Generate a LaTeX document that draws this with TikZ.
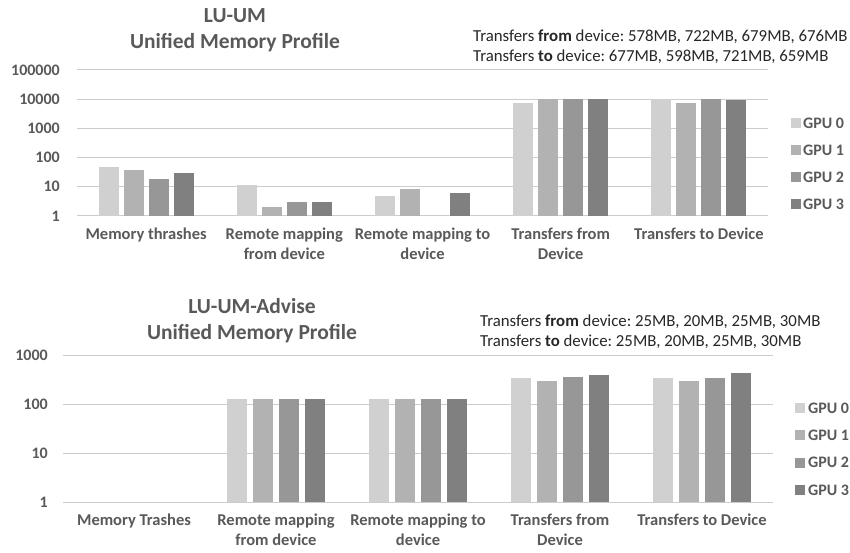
\documentclass[tikz,border=0pt]{standalone}
\usepackage{fontspec}
\setmainfont{Carlito}
\usetikzlibrary{positioning}
\frenchspacing
\definecolor{gpuA}{HTML}{D0D0D0}
\definecolor{gpuB}{HTML}{B2B2B2}
\definecolor{gpuC}{HTML}{979797}
\definecolor{gpuD}{HTML}{808080}
\definecolor{axistext}{HTML}{595959}
\definecolor{gridgray}{HTML}{CCCCCC}
\definecolor{notetext}{HTML}{262626}

\begin{document}
\begin{tikzpicture}[x=1pt,y=-1pt,
	gridline/.style={draw=gridgray,line width=1pt},
	ticklabel/.style={anchor=east,inner sep=0pt,text=axistext,font=\fontsize{16}{18}\bfseries},
	catlabel/.style={anchor=north,inner sep=0pt,align=center,text=axistext,font=\fontsize{16.5}{20}\bfseries},
	charttitle/.style={inner sep=0pt,align=center,text=axistext,font=\fontsize{21.5}{26}\bfseries},
	legendlabel/.style={anchor=west,inner sep=0pt,text=axistext,font=\fontsize{16}{18}\bfseries},
	note/.style={anchor=west,inner sep=0pt,align=left,text=notetext,font=\fontsize{16.8}{20}\selectfont}]
	\useasboundingbox (0,0) rectangle (850,553);

	\node[charttitle](titletop) at (235,30) {LU-UM\\Unified Memory Profile};
	\node[note](notetop) at (473,47) {Transfers \textbf{from} device: 578MB, 722MB, 679MB, 676MB\\Transfers \textbf{to} device: 677MB, 598MB, 721MB, 659MB};

	\foreach \k/\lab in {0/1,1/10,2/100,3/1000,4/10000,5/100000}{
		\draw[gridline] (77,216-29.2*\k) -- (768,216-29.2*\k);
		\node[ticklabel](ytop\k) at (60,216-29.2*\k) {\lab};
	}
	\foreach \c/\g/\v in {0/0/49,0/1/37,0/2/18.5,0/3/30,
		1/0/11.5,1/1/2,1/2/3,1/3/3,
		2/0/5,2/1/8.6,2/3/6,
		3/0/7200,3/1/10000,3/2/10000,3/3/10000,
		4/0/10000,4/1/7200,4/2/10000,4/3/9500}{
		\pgfmathsetmacro{\xm}{77+138.2*(\c+0.5)+25*(\g-1.5)}
		\pgfmathsetmacro{\h}{29.2*ln(\v)/ln(10)}
		\ifcase\g\def\fc{gpuA}\or\def\fc{gpuB}\or\def\fc{gpuC}\or\def\fc{gpuD}\fi
		\fill[\fc] (\xm-10,216) rectangle (\xm+10,216-\h);
	}
	\node[catlabel](cattop0) at (146.1,228) {Memory thrashes};
	\node[catlabel](cattop1) at (284.3,228) {Remote mapping\\from device};
	\node[catlabel](cattop2) at (422.5,228) {Remote mapping to\\device};
	\node[catlabel](cattop3) at (560.7,228) {Transfers from\\Device};
	\node[catlabel](cattop4) at (698.9,228) {Transfers to Device};

	\foreach \g/\fc in {0/gpuA,1/gpuB,2/gpuC,3/gpuD}{
		\fill[\fc] (791,118+27*\g) rectangle (801,128+27*\g);
		\node[legendlabel](legtop\g) at (803,123.5+27*\g) {GPU \g};
	}

	\node[charttitle](titlebot) at (252,321) {LU-UM-Advise\\Unified Memory Profile};
	\node[note](notebot) at (480,332) {Transfers \textbf{from} device: 25MB, 20MB, 25MB, 30MB\\Transfers \textbf{to} device: 25MB, 20MB, 25MB, 30MB};

	\foreach \k/\lab in {0/1,1/10,2/100,3/1000}{
		\draw[gridline] (63,502-49*\k) -- (773,502-49*\k);
		\node[ticklabel](ybot\k) at (48,502-49*\k) {\lab};
	}
	\foreach \c/\g/\v in {1/0/126,1/1/126,1/2/126,1/3/126,
		2/0/126,2/1/126,2/2/126,2/3/126,
		3/0/345,3/1/294,3/2/361,3/3/400,
		4/0/345,4/1/294,4/2/345,4/3/428}{
		\pgfmathsetmacro{\xm}{63+142*(\c+0.5)+25.7*(\g-1.5)}
		\pgfmathsetmacro{\h}{49*ln(\v)/ln(10)}
		\ifcase\g\def\fc{gpuA}\or\def\fc{gpuB}\or\def\fc{gpuC}\or\def\fc{gpuD}\fi
		\fill[\fc] (\xm-10,502) rectangle (\xm+10,502-\h);
	}
	\node[catlabel](catbot0) at (134,514) {Memory Trashes};
	\node[catlabel](catbot1) at (276,514) {Remote mapping\\from device};
	\node[catlabel](catbot2) at (418,514) {Remote mapping to\\device};
	\node[catlabel](catbot3) at (560,514) {Transfers from\\Device};
	\node[catlabel](catbot4) at (702,514) {Transfers to Device};

	\foreach \g/\fc in {0/gpuA,1/gpuB,2/gpuC,3/gpuD}{
		\fill[\fc] (795,403+27.3*\g) rectangle (805,413+27.3*\g);
		\node[legendlabel](legbot\g) at (808,408+27.3*\g) {GPU \g};
	}
\end{tikzpicture}
\end{document}
